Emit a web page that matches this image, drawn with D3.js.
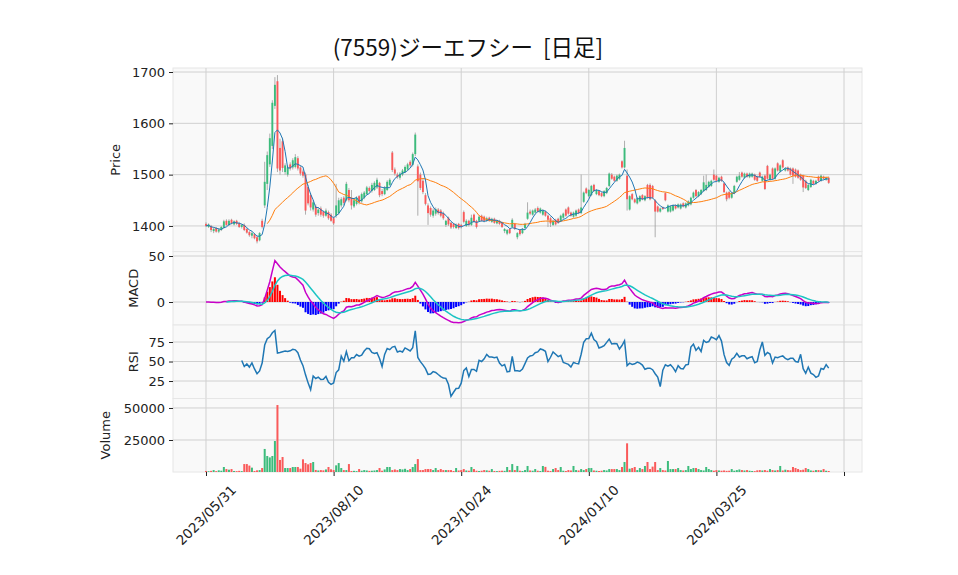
<!DOCTYPE html>
<html>
<head>
<meta charset="utf-8">
<script src="https://cdn.jsdelivr.net/npm/d3@7"></script>
<style>
  body { margin: 0; background: #fff; }
  text { font-family: "DejaVu Sans", sans-serif; }
</style>
</head>
<body>
<svg id="chart" width="958" height="575"></svg>
<script>
// daily candles, (7559) ジーエフシー
const opens = [
  1404,1398,1400,1390,1396,1389,1392,1397,1410,1402,1412,1403,1410,1405,1398,1402,1394,1388,1381,1384,
  1378,1372,1410,1440,1482,1520,1556,1634,1682,1552,1565,1505,1500,1520,1514,1515,1532,1514,1506,1500,
  1476,1460,1432,1438,1425,1434,1428,1420,1427,1422,1415,1420,1425,1440,1455,1450,1470,1455,1438,1443,
  1458,1448,1455,1462,1474,1468,1470,1475,1484,1468,1462,1470,1480,1543,1510,1500,1494,1500,1505,1510,
  1525,1519,1540,1516,1500,1488,1460,1440,1435,1420,1424,1432,1430,1425,1402,1416,1406,1404,1396,1404,
  1402,1427,1400,1410,1402,1422,1410,1410,1420,1418,1410,1416,1408,1414,1405,1410,1406,1390,1385,1394,
  1398,1404,1378,1392,1386,1396,1414,1428,1422,1426,1435,1426,1422,1428,1420,1415,1402,1412,1414,1410,
  1416,1432,1436,1426,1418,1420,1432,1425,1447,1473,1458,1460,1480,1462,1468,1464,1458,1464,1478,1500,
  1496,1488,1492,1526,1514,1498,1432,1462,1452,1444,1448,1460,1450,1480,1480,1478,1450,1438,1428,1436,
  1464,1428,1428,1430,1440,1436,1434,1444,1436,1440,1442,1455,1470,1458,1462,1468,1470,1476,1478,1500,
  1498,1486,1496,1483,1465,1466,1455,1464,1486,1490,1504,1494,1502,1495,1496,1500,1496,1504,1488,1498,
  1517,1490,1512,1492,1522,1506,1528,1508,1514,1512,1512,1510,1508,1500,1498,1488,1470,1476,1488,1482,
  1496,1488,1496,1490,1494
];
const highs = [
  1407,1405,1402,1397,1398,1396,1400,1412,1413,1413,1414,1411,1412,1408,1404,1405,1396,1390,1389,1386,
  1380,1388,1414,1525,1545,1580,1645,1690,1694,1570,1572,1522,1518,1524,1532,1540,1536,1518,1510,1504,
  1480,1464,1450,1442,1436,1438,1430,1434,1430,1425,1418,1482,1455,1456,1458,1486,1474,1470,1454,1458,
  1460,1465,1468,1478,1477,1484,1487,1494,1486,1472,1478,1489,1493,1546,1514,1504,1505,1511,1518,1523,
  1528,1543,1582,1520,1504,1492,1464,1444,1438,1434,1436,1435,1433,1428,1412,1418,1408,1406,1405,1406,
  1404,1430,1413,1412,1422,1424,1412,1421,1422,1420,1418,1418,1416,1416,1412,1412,1408,1396,1394,1396,
  1415,1406,1388,1394,1396,1406,1446,1432,1432,1435,1438,1436,1432,1430,1422,1418,1412,1414,1416,1422,
  1426,1434,1438,1428,1428,1432,1434,1500,1467,1475,1472,1480,1482,1472,1470,1466,1470,1476,1504,1503,
  1498,1500,1502,1528,1566,1510,1460,1464,1454,1456,1460,1462,1460,1482,1483,1480,1452,1440,1436,1438,
  1466,1442,1440,1442,1442,1444,1444,1446,1446,1450,1457,1467,1472,1468,1472,1498,1500,1488,1490,1510,
  1500,1496,1498,1485,1467,1468,1466,1480,1498,1505,1506,1504,1504,1504,1504,1502,1498,1506,1498,1500,
  1519,1502,1514,1514,1524,1520,1530,1514,1516,1514,1514,1512,1510,1502,1500,1490,1482,1492,1490,1490,
  1498,1500,1498,1496,1496
];
const lows = [
  1398,1396,1388,1386,1387,1386,1390,1395,1400,1400,1403,1401,1402,1396,1395,1390,1385,1379,1376,1374,
  1366,1370,1395,1435,1470,1515,1550,1628,1505,1500,1505,1500,1496,1508,1510,1512,1508,1498,1494,1422,
  1440,1430,1428,1418,1420,1418,1416,1418,1412,1408,1402,1416,1422,1436,1440,1448,1446,1432,1435,1440,
  1442,1445,1452,1460,1465,1465,1468,1472,1456,1458,1460,1468,1478,1505,1498,1492,1490,1497,1503,1508,
  1514,1516,1536,1420,1470,1462,1440,1402,1418,1416,1420,1422,1417,1412,1398,1400,1394,1395,1394,1393,
  1395,1405,1398,1399,1400,1406,1395,1408,1408,1407,1408,1408,1406,1404,1403,1402,1396,1386,1382,1384,
  1396,1392,1374,1381,1384,1394,1412,1421,1420,1424,1426,1424,1420,1418,1398,1398,1400,1401,1404,1408,
  1414,1418,1422,1418,1416,1418,1423,1423,1445,1462,1456,1458,1466,1460,1458,1456,1456,1462,1476,1490,
  1486,1486,1490,1512,1512,1430,1430,1450,1444,1442,1446,1450,1448,1453,1450,1453,1378,1426,1426,1431,
  1448,1426,1426,1428,1432,1434,1432,1436,1434,1438,1440,1453,1456,1456,1460,1466,1468,1474,1476,1488,
  1486,1484,1486,1464,1448,1452,1453,1462,1484,1488,1494,1492,1494,1493,1494,1488,1486,1494,1486,1470,
  1490,1488,1490,1490,1506,1504,1512,1506,1506,1498,1482,1494,1492,1488,1466,1472,1468,1474,1480,1480,
  1486,1486,1490,1488,1482
];
const closes = [
  1400,1403,1392,1394,1389,1393,1398,1409,1402,1410,1405,1409,1404,1398,1402,1392,1387,1382,1386,1376,
  1370,1386,1398,1486,1538,1571,1640,1675,1512,1508,1513,1518,1514,1512,1528,1534,1512,1502,1498,1430,
  1444,1436,1446,1422,1432,1422,1420,1430,1415,1410,1405,1440,1450,1452,1445,1482,1450,1440,1450,1455,
  1446,1462,1465,1475,1468,1480,1484,1490,1460,1462,1475,1486,1490,1509,1502,1495,1502,1508,1515,1520,
  1518,1540,1578,1487,1474,1466,1443,1425,1422,1430,1433,1425,1420,1415,1410,1403,1397,1398,1402,1396,
  1398,1408,1410,1402,1416,1408,1398,1418,1410,1410,1415,1410,1414,1406,1410,1404,1398,1394,1392,1386,
  1412,1394,1386,1384,1394,1404,1426,1424,1430,1432,1428,1434,1430,1420,1412,1405,1410,1403,1406,1420,
  1424,1420,1424,1420,1426,1430,1425,1436,1465,1464,1470,1478,1468,1470,1460,1458,1468,1474,1502,1492,
  1488,1498,1500,1514,1552,1452,1458,1452,1446,1454,1458,1452,1458,1455,1452,1455,1428,1428,1434,1433,
  1450,1440,1438,1440,1434,1442,1442,1438,1444,1448,1455,1465,1458,1466,1470,1485,1480,1486,1488,1490,
  1488,1494,1488,1466,1452,1455,1464,1478,1496,1498,1496,1502,1496,1502,1502,1490,1488,1496,1496,1472,
  1492,1500,1492,1512,1508,1518,1514,1512,1508,1500,1498,1496,1494,1490,1475,1474,1480,1490,1482,1488,
  1488,1498,1492,1494,1484
];
const volumes = [
  800,600,900,1500,700,1300,1000,3900,2300,1800,2300,800,700,900,700,6200,6200,5000,3400,800,
  1300,1500,3100,18000,12500,11400,12500,24200,52300,9400,11700,3100,3100,3100,3900,3900,3900,2600,9900,7000,
  6000,7000,7800,1600,1200,1500,1300,2000,3900,2100,1500,5200,7000,3100,1500,1500,6200,800,900,700,
  2300,1000,1500,1200,900,1000,1200,1500,3100,1000,2000,3900,3900,1500,2000,1500,2300,2000,2500,1500,
  2300,3900,6200,10100,1500,1500,2300,2300,2300,1500,3100,1500,2300,1500,1500,1500,1500,800,3100,1200,
  1500,2300,1200,1000,3900,2300,1000,800,1000,1500,1300,1000,2300,800,700,900,1000,900,3900,1500,
  6200,1500,4700,1000,800,1500,4700,1200,1000,2300,1000,800,4700,4000,1000,800,2300,3100,1500,3900,
  1000,800,1500,1200,4700,1500,1200,2300,1500,2300,3100,3100,1200,1000,800,1000,1500,1200,2300,2300,
  2300,2300,1500,3900,7800,22400,2600,3100,3900,1500,3100,2300,4700,7800,2300,4200,7800,1500,3100,1500,
  1200,8600,2300,2300,2300,3100,1500,1200,1500,4700,2300,3100,3100,2300,1500,1200,3900,2300,1500,1000,
  1500,1200,1000,1200,900,1000,2300,1000,1500,2000,1500,1200,1500,1000,800,700,1300,1500,1200,1500,
  1000,2300,1500,1200,1500,4700,1200,1800,1500,1300,3900,3100,2300,1500,1800,3100,2300,1200,1000,1500,
  1500,1300,2300,1000,800
];
const tickIdx = [0, 50, 100, 150, 200, 250];
const tickLabels = ["2023/05/31", "2023/08/10", "2023/10/24", "2024/01/10", "2024/03/25", ""];
const title = "(7559)ジーエフシー  [日足]";

const upColor = "#3cbc7c", downColor = "#fa5a5a";
const gridColor = "#d0d0d0";

// ---- indicators (same as the plotting script: 5/25 MA, MACD 12/26/9, RSI 14)
function sma(arr, n, minP) {
  return arr.map((_, i) => {
    const s = Math.max(0, i - n + 1);
    if (i - s + 1 < minP) return null;
    return d3.mean(arr.slice(s, i + 1));
  });
}
function ewm(arr, span, minP = 1) {
  const a = 2 / (span + 1);
  let num = 0, den = 0;
  return arr.map((v, i) => {
    num = v + (1 - a) * num;
    den = 1 + (1 - a) * den;
    return i + 1 >= minP ? num / den : null;
  });
}
const ma5 = sma(closes, 5, 1);
const ma25 = sma(closes, 25, 25);
const ema12 = ewm(closes, 12), ema26 = ewm(closes, 26);
const macd = ema12.map((v, i) => v - ema26[i]);
const signal = ewm(macd, 9, 9);
const hist = macd.map((v, i) => (signal[i] == null ? null : v - signal[i]));
const diffs = closes.map((v, i) => (i == 0 ? null : v - closes[i - 1]));
const rsi = closes.map((_, i) => {
  if (i < 14) return null;
  const w = diffs.slice(i - 13, i + 1);
  const g = d3.sum(w, (d) => Math.max(d, 0)) / 14;
  const l = d3.sum(w, (d) => Math.max(-d, 0)) / 14;
  return l == 0 ? 100 : 100 - 100 / (1 + g / l);
});

const svg = d3.select("#chart");
const left = 173, right = 862;
const x = d3.scaleLinear().domain([-12.93, 257.05]).range([left, right]);
const idx = d3.range(closes.length);

const panels = [
  { name: "Price", top: 68, bottom: 251.6, domain: [1350, 1707.8], ticks: [1400, 1500, 1600, 1700], labelX: 115 },
  { name: "MACD", top: 251.6, bottom: 325, domain: [-25, 54.8], ticks: [0, 50], labelX: 133 },
  { name: "RSI", top: 325, bottom: 398.5, domain: [2.6, 96.8], ticks: [25, 50, 75], labelX: 133 },
  { name: "Volume", top: 398.5, bottom: 472, domain: [0, 57400], ticks: [25000, 50000], labelX: 105 },
];
panels.forEach((p) => {
  p.y = d3.scaleLinear().domain(p.domain).range([p.bottom, p.top]);
  const g = svg.append("g");
  g.append("rect").attr("x", left).attr("y", p.top).attr("width", right - left)
    .attr("height", p.bottom - p.top).attr("fill", "#f9f9f9").attr("stroke", "#e6e6e6");
  g.selectAll("line.vg").data(tickIdx).join("line")
    .attr("x1", (d) => x(d)).attr("x2", (d) => x(d))
    .attr("y1", p.top).attr("y2", p.bottom).attr("stroke", gridColor);
  g.selectAll("line.hg").data(p.ticks).join("line")
    .attr("x1", left).attr("x2", right)
    .attr("y1", (d) => p.y(d)).attr("y2", (d) => p.y(d)).attr("stroke", gridColor);
  // left axis
  const ax = g.append("g").attr("transform", `translate(${left},0)`)
    .call(d3.axisLeft(p.y).tickValues(p.ticks).tickSize(4).tickPadding(4).tickFormat(d3.format("d")));
  ax.select(".domain").remove();
  ax.selectAll("text").attr("font-size", 13).attr("fill", "#222").style("font-family", "DejaVu Sans");
  ax.selectAll("line").attr("stroke", "#222");
  g.append("text").attr("transform", `translate(${p.labelX},${(p.top + p.bottom) / 2}) rotate(-90)`)
    .attr("text-anchor", "middle").attr("dominant-baseline", "central")
    .attr("font-size", 13).attr("fill", "#222").text(p.name);
});
const [pP, pM, pR, pV] = panels;

// candles
const cw = 1.9;
const candle = svg.append("g").selectAll("g").data(idx).join("g");
candle.append("line")
  .attr("x1", (i) => x(i)).attr("x2", (i) => x(i))
  .attr("y1", (i) => pP.y(highs[i])).attr("y2", (i) => pP.y(lows[i]))
  .attr("stroke", "#9a9a9a").attr("stroke-width", 0.8);
candle.append("rect")
  .attr("x", (i) => x(i) - cw / 2).attr("width", cw)
  .attr("y", (i) => pP.y(Math.max(opens[i], closes[i])))
  .attr("height", (i) => Math.max(0.8, Math.abs(pP.y(opens[i]) - pP.y(closes[i]))))
  .attr("fill", (i) => (closes[i] >= opens[i] ? upColor : downColor));

const lineOf = (ys, yScale) => d3.line().defined((i) => ys[i] != null)
  .x((i) => x(i)).y((i) => yScale(ys[i]))(idx);
svg.append("path").attr("d", lineOf(ma25, pP.y)).attr("fill", "none").attr("stroke", "#ff7f0e").attr("stroke-width", 1);
svg.append("path").attr("d", lineOf(ma5, pP.y)).attr("fill", "none").attr("stroke", "#1f77b4").attr("stroke-width", 1);

// MACD
svg.append("g").selectAll("rect").data(idx.filter((i) => hist[i] != null)).join("rect")
  .attr("x", (i) => x(i) - 1).attr("width", 2)
  .attr("y", (i) => pM.y(Math.max(0, hist[i])))
  .attr("height", (i) => Math.abs(pM.y(hist[i]) - pM.y(0)))
  .attr("fill", (i) => (hist[i] >= 0 ? "#ff0000" : "#0000ff"));
svg.append("path").attr("d", lineOf(macd, pM.y)).attr("fill", "none").attr("stroke", "#c800c8").attr("stroke-width", 1.5);
svg.append("path").attr("d", lineOf(signal, pM.y)).attr("fill", "none").attr("stroke", "#1cc4c4").attr("stroke-width", 1.5);

// RSI
svg.append("path").attr("d", lineOf(rsi, pR.y)).attr("fill", "none").attr("stroke", "#1f77b4").attr("stroke-width", 1.5);

// volume
svg.append("g").selectAll("rect").data(idx).join("rect")
  .attr("x", (i) => x(i) - 1).attr("width", 2)
  .attr("y", (i) => pV.y(volumes[i]))
  .attr("height", (i) => pV.y(0) - pV.y(volumes[i]))
  .attr("fill", (i) => (closes[i] >= opens[i] ? upColor : downColor));

// x axis
const xa = svg.append("g").attr("transform", `translate(0,${pV.bottom})`)
  .call(d3.axisBottom(x).tickValues(tickIdx).tickSize(4).tickFormat(() => ""));
xa.select(".domain").remove();
xa.selectAll("line").attr("stroke", "#222");
svg.append("g").selectAll("text").data(tickIdx).join("text")
  .attr("transform", (d) => `translate(${x(d)},515) rotate(-45)`)
  .attr("text-anchor", "middle").attr("dominant-baseline", "central")
  .attr("font-size", 13.5).attr("fill", "#222")
  .text((d, i) => tickLabels[i]);

svg.append("text").attr("x", 468).attr("y", 46).attr("text-anchor", "middle")
  .attr("dominant-baseline", "central").style("white-space", "pre")
  .style("font-family", "'Noto Sans CJK JP', sans-serif").attr("font-size", 22.5).attr("fill", "#111")
  .text(title);
</script>
</body>
</html>
